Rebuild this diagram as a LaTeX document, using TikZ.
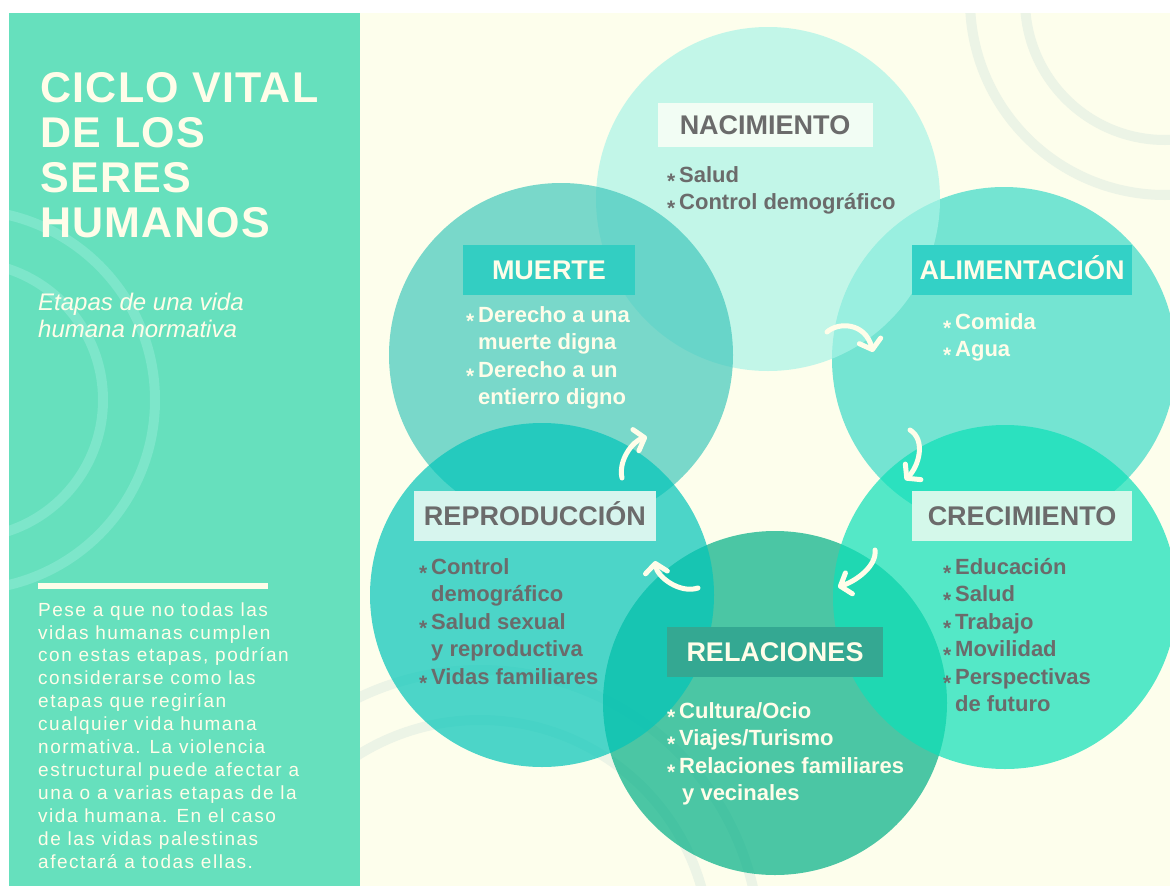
\documentclass[tikz,border=0pt]{standalone}
\usepackage{fontspec}
\setmainfont{Liberation Sans}
\newfontfamily\titlefont[LetterSpace=3]{Liberation Sans}
\newfontfamily\parafont[LetterSpace=8]{Liberation Sans}
\usetikzlibrary{arrows.meta,positioning}
\definecolor{cPanel}{HTML}{66E0BD}
\definecolor{cPanelRing}{HTML}{7DE6CA}
\definecolor{cCream}{HTML}{FDFEEC}
\definecolor{cCreamRing}{HTML}{ECF4E6}
\definecolor{cTxt}{HTML}{FFFDE9}
\definecolor{cGrey}{HTML}{6B6B6B}
% circle fills (drawn at 70% over the cream)
\definecolor{cNac}{HTML}{AAF4E7}
\definecolor{cAli}{HTML}{3BD9C7}
\definecolor{cCre}{HTML}{0DE0B8}
\definecolor{cRel}{HTML}{00AF86}
\definecolor{cRep}{HTML}{02C5B9}
\definecolor{cMue}{HTML}{42C8BC}
% label boxes
\definecolor{bNac}{HTML}{F2FDF4}
\definecolor{bMue}{HTML}{33CEC2}
\definecolor{bAli}{HTML}{33D1C6}
\definecolor{bCre}{HTML}{D4F8EA}
\definecolor{bRep}{HTML}{D7F5EE}
\definecolor{bRel}{HTML}{34A892}
\newcommand\bul{\makebox[12pt][l]{\raisebox{-6pt}{\fontsize{21}{21}\selectfont *}}}
\newcommand\ind{\hspace*{12pt}}
\tikzset{
  stage/.style={circle, inner sep=0pt, minimum size=344pt, fill=#1, fill opacity=0.7},
  tag/.style={fill=#1, inner sep=0pt, minimum height=50pt,
              font=\fontsize{27}{27}\selectfont\bfseries, text height=19.3pt, text depth=0pt},
  items/.style={anchor=base west, inner sep=0pt, align=left, text=#1,
                font=\fontsize{22}{27.5}\selectfont\bfseries},
  cyc/.style={-{Straight Barb[length=9pt,width=22pt,round]}, line width=5pt, line cap=round, draw=cTxt},
  ring/.style={line width=10pt, draw=#1},
}

\begin{document}
\begin{tikzpicture}[x=1pt,y=-1pt]
  \useasboundingbox (0,0) rectangle (1170,886);
  \fill[white] (0,0) rectangle (1170,886);
  \fill[cPanel] (9,13) rectangle (360,886);
  \fill[cCream] (360,13) rectangle (1170,886);
  \begin{scope}
    \clip (9,13) rectangle (360,886);
    \draw[ring=cPanelRing] (-35,400) circle (190);
    \draw[ring=cPanelRing] (-35,400) circle (138);
  \end{scope}
  \begin{scope}
    \clip (360,13) rectangle (1170,886);
    \draw[ring=cCreamRing] (1165,0) circle (195);
    \draw[ring=cCreamRing] (1165,0) circle (140);
    \draw[ring=cCreamRing] (480,950) circle (280);
    \draw[ring=cCreamRing] (480,950) circle (230);
  \end{scope}

  % left panel (multi-line nodes sit on their last baseline)
  \node[anchor=base west, align=left, inner sep=0pt, text=cTxt,
        font=\titlefont\bfseries\fontsize{43}{45}\selectfont] (title) at (40,237)
        {CICLO VITAL\\DE LOS\\SERES\\HUMANOS};
  \node[anchor=base west, align=left, inner sep=0pt, text=cTxt,
        font=\itshape\fontsize{24}{27}\selectfont] (sub) at (38,337)
        {Etapas de una vida\\humana normativa};
  \node[fill=cTxt, anchor=west, inner sep=0pt, minimum width=230pt, minimum height=6pt] (bar) at (38,586) {};
  \node[anchor=base west, align=left, inner sep=0pt, text=cTxt,
        font=\parafont\fontsize{19}{22.9}\selectfont] (para) at (38,868)
        {Pese a que no todas las\\vidas humanas cumplen\\con estas etapas, podrían\\
         considerarse como las\\etapas que regirían\\cualquier vida humana\\
         normativa. La violencia\\estructural puede afectar a\\una o a varias etapas de la\\
         vida humana. En el caso\\de las vidas palestinas\\afectará a todas ellas.};

  % stages
  \node[stage=cAli] (ali) at (1004,359) {};
  \node[stage=cNac] (nac) at (768,199) {};
  \node[stage=cMue] (mue) at (561,355) {};
  \node[stage=cRel] (rel) at (775,703) {};
  \node[stage=cCre] (cre) at (1005,597) {};
  \node[stage=cRep] (rep) at (542,595) {};

  \node[tag=bNac, text=cGrey, minimum width=215pt, minimum height=44pt] (nact) at (765,125) {NACIMIENTO};
  \node[tag=bMue, text=cTxt, minimum width=172pt] (muet) at (549,270) {MUERTE};
  \node[tag=bAli, text=cTxt, minimum width=220pt] (alit) at (1022,270) {ALIMENTACIÓN};
  \node[tag=bCre, text=cGrey, minimum width=220pt] (cret) at (1022,516) {CRECIMIENTO};
  \node[tag=bRep, text=cGrey, minimum width=242pt] (rept) at (535,516) {REPRODUCCIÓN};
  \node[tag=bRel, text=cTxt, minimum width=216pt] (relt) at (775,652) {RELACIONES};

  \node[items=cGrey] (nacl) at (667,209.5) {\bul Salud\\\bul Control demográfico};
  \node[items=cTxt] (muel) at (466,404.5)
       {\bul Derecho a una\\\ind muerte digna\\\bul Derecho a un\\\ind entierro digno};
  \node[items=cTxt] (alil) at (943,356.5) {\bul Comida\\\bul Agua};
  \node[items=cGrey] (crel) at (943,711.5)
       {\bul Educación\\\bul Salud\\\bul Trabajo\\\bul Movilidad\\\bul Perspectivas\\\ind de futuro};
  \node[items=cGrey] (repl) at (419,684)
       {\bul Control\\\ind demográfico\\\bul Salud sexual\\\ind y reproductiva\\\bul Vidas familiares};
  \node[items=cTxt] (rell) at (667,800.5)
       {\bul Cultura/Ocio\\\bul Viajes/Turismo\\\bul Relaciones familiares\\\ind\hspace*{3pt}y vecinales};

  % cycle arrows
  \coordinate (a1) at (827,332); \coordinate (b1) at (873,352);
  \coordinate (a2) at (910,430); \coordinate (b2) at (905,480);
  \coordinate (a3) at (875,550); \coordinate (b3) at (838,587);
  \coordinate (a4) at (698,588); \coordinate (b4) at (655,561);
  \coordinate (a5) at (622,478); \coordinate (b5) at (647,437);
  \draw[cyc] (a1) .. controls +(11,-10) and +(-8,-30) .. (b1);
  \draw[cyc] (a2) .. controls +(16,10) and +(14,-14) .. (b2);
  \draw[cyc] (a3) .. controls +(2,16) and +(18,-6) .. (b3);
  \draw[cyc] (a4) .. controls +(-18,6) and +(2,16) .. (b4);
  \draw[cyc] (a5) .. controls +(-4,-18) and +(-14,4) .. (b5);
\end{tikzpicture}
\end{document}
